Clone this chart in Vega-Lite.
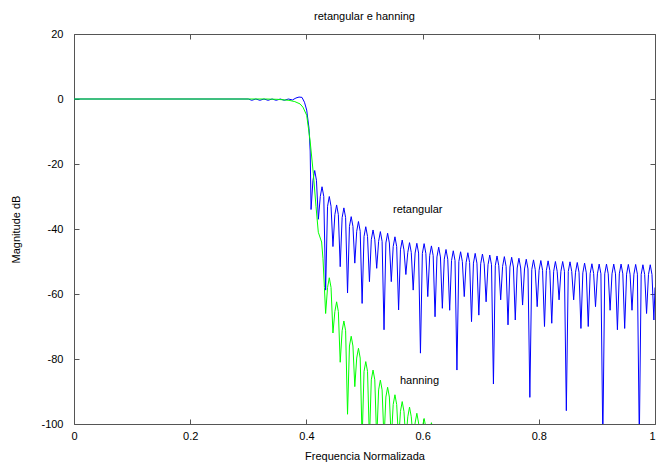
{
  "$schema": "https://vega.github.io/schema/vega-lite/v6.json",
  "width": 581,
  "height": 390,
  "autosize": {"type": "none"},
  "padding": {"left": 74, "top": 34, "right": 2, "bottom": 44},
  "background": "white",
  "config": {
    "view": {"stroke": null},
    "font": "Liberation Sans",
    "axis": {"grid": false, "domainColor": "#555", "tickColor": "#555", "labelColor": "#000", "titleColor": "#000", "labelFont": "Liberation Sans", "titleFont": "Liberation Sans", "labelFontSize": 11, "titleFontSize": 11, "titleFontWeight": "normal", "labelFlush": false, "labelOverlap": false, "tickSize": -5}
  },
  "title": {"text": "retangular e hanning", "fontSize": 11, "fontWeight": "normal", "font": "Liberation Sans", "color": "#000", "offset": 6, "anchor": "middle"},
  "datasets": {
    "blue": [
      {"f":0,"db":0},{"f":0.3,"db":0},{"f":0.306,"db":-0.4},{"f":0.313,"db":0},{"f":0.32,"db":-0.4},{"f":0.327,"db":0},{"f":0.334,"db":-0.4},{"f":0.341,"db":0},{"f":0.348,"db":-0.4},{"f":0.355,"db":0},{"f":0.362,"db":-0.4},{"f":0.369,"db":0},{"f":0.376,"db":-0.3},{"f":0.382,"db":0.3},{"f":0.3873,"db":0.6},{"f":0.3924,"db":0.5},{"f":0.3967,"db":-1},{"f":0.4005,"db":-3.4},{"f":0.4045,"db":-9},{"f":0.4065,"db":-16},{"f":0.408,"db":-34},
      {"f":0.4113,"db":-25},{"f":0.4143,"db":-22},{"f":0.4173,"db":-25},{"f":0.4206,"db":-37},
      {"f":0.4239,"db":-30},{"f":0.4269,"db":-27},{"f":0.4299,"db":-30},{"f":0.4331,"db":-58.8},
      {"f":0.4364,"db":-33},{"f":0.4394,"db":-30},{"f":0.4424,"db":-33},{"f":0.4457,"db":-45.4},
      {"f":0.449,"db":-35.6},{"f":0.452,"db":-32.6},{"f":0.455,"db":-35.6},{"f":0.4582,"db":-51.6},
      {"f":0.4615,"db":-36.5},{"f":0.4645,"db":-33.5},{"f":0.4675,"db":-36.5},{"f":0.4708,"db":-59.7},
      {"f":0.4741,"db":-39.2},{"f":0.4771,"db":-36.2},{"f":0.4801,"db":-39.2},{"f":0.4833,"db":-50.5},
      {"f":0.4866,"db":-40.7},{"f":0.4896,"db":-37.7},{"f":0.4926,"db":-40.7},{"f":0.4959,"db":-62.9},
      {"f":0.4992,"db":-42.3},{"f":0.5022,"db":-39.3},{"f":0.5052,"db":-42.3},{"f":0.5085,"db":-56.2},
      {"f":0.5117,"db":-43.3},{"f":0.5147,"db":-40.3},{"f":0.5177,"db":-43.3},{"f":0.521,"db":-52.1},
      {"f":0.5243,"db":-43.8},{"f":0.5273,"db":-40.8},{"f":0.5303,"db":-43.8},{"f":0.5336,"db":-71},
      {"f":0.5368,"db":-44.3},{"f":0.5398,"db":-41.3},{"f":0.5428,"db":-44.3},{"f":0.5461,"db":-56.2},
      {"f":0.5494,"db":-45.4},{"f":0.5524,"db":-42.4},{"f":0.5554,"db":-45.4},{"f":0.5587,"db":-64.9},
      {"f":0.5619,"db":-46.4},{"f":0.5649,"db":-43.4},{"f":0.5679,"db":-46.4},{"f":0.5712,"db":-54},
      {"f":0.5745,"db":-47.2},{"f":0.5775,"db":-44.2},{"f":0.5805,"db":-47.2},{"f":0.5838,"db":-58.8},
      {"f":0.5871,"db":-47.4},{"f":0.5901,"db":-44.4},{"f":0.5931,"db":-47.4},{"f":0.5963,"db":-78.2},
      {"f":0.5996,"db":-47.5},{"f":0.6026,"db":-44.5},{"f":0.6056,"db":-47.5},{"f":0.6089,"db":-60.8},
      {"f":0.6122,"db":-48.2},{"f":0.6152,"db":-45.2},{"f":0.6182,"db":-48.2},{"f":0.6214,"db":-67},
      {"f":0.6247,"db":-48.6},{"f":0.6277,"db":-45.6},{"f":0.6307,"db":-48.6},{"f":0.634,"db":-64.4},
      {"f":0.6373,"db":-49.3},{"f":0.6403,"db":-46.3},{"f":0.6433,"db":-49.3},{"f":0.6466,"db":-65},
      {"f":0.6498,"db":-49.7},{"f":0.6528,"db":-46.7},{"f":0.6558,"db":-49.7},{"f":0.6591,"db":-83.4},
      {"f":0.6624,"db":-50},{"f":0.6654,"db":-47},{"f":0.6684,"db":-50},{"f":0.6717,"db":-60.8},
      {"f":0.6749,"db":-50.3},{"f":0.6779,"db":-47.3},{"f":0.6809,"db":-50.3},{"f":0.6842,"db":-68.5},
      {"f":0.6875,"db":-50.5},{"f":0.6905,"db":-47.5},{"f":0.6935,"db":-50.5},{"f":0.6968,"db":-66.5},
      {"f":0.7,"db":-50.7},{"f":0.703,"db":-47.7},{"f":0.706,"db":-50.7},{"f":0.7093,"db":-62.4},
      {"f":0.7126,"db":-51},{"f":0.7156,"db":-48},{"f":0.7186,"db":-51},{"f":0.7219,"db":-87.7},
      {"f":0.7251,"db":-51.3},{"f":0.7281,"db":-48.3},{"f":0.7311,"db":-51.3},{"f":0.7344,"db":-61.8},
      {"f":0.7377,"db":-51.5},{"f":0.7407,"db":-48.5},{"f":0.7437,"db":-51.5},{"f":0.747,"db":-69.5},
      {"f":0.7503,"db":-51.7},{"f":0.7533,"db":-48.7},{"f":0.7563,"db":-51.7},{"f":0.7595,"db":-68},
      {"f":0.7628,"db":-52},{"f":0.7658,"db":-49},{"f":0.7688,"db":-52},{"f":0.7721,"db":-63.4},
      {"f":0.7754,"db":-52.3},{"f":0.7784,"db":-49.3},{"f":0.7814,"db":-52.3},{"f":0.7846,"db":-91.8},
      {"f":0.7879,"db":-52.5},{"f":0.7909,"db":-49.5},{"f":0.7939,"db":-52.5},{"f":0.7972,"db":-63.9},
      {"f":0.8005,"db":-52.7},{"f":0.8035,"db":-49.7},{"f":0.8065,"db":-52.7},{"f":0.8098,"db":-70},
      {"f":0.813,"db":-52.8},{"f":0.816,"db":-49.8},{"f":0.819,"db":-52.8},{"f":0.8223,"db":-69},
      {"f":0.8256,"db":-53},{"f":0.8286,"db":-50},{"f":0.8316,"db":-53},{"f":0.8349,"db":-61.8},
      {"f":0.8381,"db":-53},{"f":0.8411,"db":-50},{"f":0.8441,"db":-53},{"f":0.8474,"db":-95.9},
      {"f":0.8507,"db":-53.1},{"f":0.8537,"db":-50.1},{"f":0.8567,"db":-53.1},{"f":0.86,"db":-61.8},
      {"f":0.8632,"db":-53.3},{"f":0.8662,"db":-50.3},{"f":0.8692,"db":-53.3},{"f":0.8725,"db":-70.6},
      {"f":0.8758,"db":-53.5},{"f":0.8788,"db":-50.5},{"f":0.8818,"db":-53.5},{"f":0.8851,"db":-70},
      {"f":0.8884,"db":-53.7},{"f":0.8914,"db":-50.7},{"f":0.8944,"db":-53.7},{"f":0.8976,"db":-63.9},
      {"f":0.9009,"db":-53.8},{"f":0.9039,"db":-50.8},{"f":0.9069,"db":-53.8},{"f":0.9102,"db":-105},
      {"f":0.9135,"db":-53.8},{"f":0.9165,"db":-50.8},{"f":0.9195,"db":-53.8},{"f":0.9227,"db":-65},
      {"f":0.926,"db":-53.8},{"f":0.929,"db":-50.8},{"f":0.932,"db":-53.8},{"f":0.9353,"db":-71},
      {"f":0.9386,"db":-53.8},{"f":0.9416,"db":-50.8},{"f":0.9446,"db":-53.8},{"f":0.9478,"db":-70.6},
      {"f":0.9511,"db":-53.9},{"f":0.9541,"db":-50.9},{"f":0.9571,"db":-53.9},{"f":0.9604,"db":-65},
      {"f":0.9637,"db":-53.9},{"f":0.9667,"db":-50.9},{"f":0.9697,"db":-53.9},{"f":0.973,"db":-105},
      {"f":0.9762,"db":-54},{"f":0.9792,"db":-51},{"f":0.9822,"db":-54},{"f":0.9855,"db":-66},
      {"f":0.9888,"db":-54},{"f":0.9918,"db":-51},{"f":0.9948,"db":-54},{"f":0.9981,"db":-68},
      {"f":1,"db":-58}
    ],
    "green": [
      {"f":0,"db":0},{"f":0.33,"db":0},{"f":0.35,"db":-0.1},{"f":0.37,"db":-0.4},{"f":0.38,"db":-0.8},{"f":0.389,"db":-1.5},{"f":0.394,"db":-2.5},{"f":0.4005,"db":-5},{"f":0.4062,"db":-12.6},{"f":0.4119,"db":-22.9},{"f":0.4165,"db":-33},{"f":0.4205,"db":-41},{"f":0.4262,"db":-44},{"f":0.4285,"db":-49},{"f":0.431,"db":-58},{"f":0.4331,"db":-66},
      {"f":0.4364,"db":-58},{"f":0.4394,"db":-55},{"f":0.4424,"db":-58},{"f":0.4457,"db":-72},
      {"f":0.449,"db":-65.4},{"f":0.452,"db":-62.4},{"f":0.455,"db":-65.4},{"f":0.4582,"db":-81},
      {"f":0.4615,"db":-71.3},{"f":0.4645,"db":-68.3},{"f":0.4675,"db":-71.3},{"f":0.4708,"db":-97},
      {"f":0.4741,"db":-76},{"f":0.4771,"db":-73},{"f":0.4801,"db":-76},{"f":0.4833,"db":-88.5},
      {"f":0.4866,"db":-79.7},{"f":0.4896,"db":-76.7},{"f":0.4926,"db":-79.7},{"f":0.4959,"db":-105},
      {"f":0.4992,"db":-83.8},{"f":0.5022,"db":-80.8},{"f":0.5052,"db":-83.8},{"f":0.5085,"db":-105},
      {"f":0.5117,"db":-86.4},{"f":0.5147,"db":-83.4},{"f":0.5177,"db":-86.4},{"f":0.521,"db":-105},
      {"f":0.5243,"db":-89.5},{"f":0.5273,"db":-86.5},{"f":0.5303,"db":-89.5},{"f":0.5336,"db":-105},
      {"f":0.5368,"db":-91.7},{"f":0.5398,"db":-88.7},{"f":0.5428,"db":-91.7},{"f":0.5461,"db":-105},
      {"f":0.5494,"db":-94},{"f":0.5524,"db":-91},{"f":0.5554,"db":-94},{"f":0.5587,"db":-105},
      {"f":0.5619,"db":-96.1},{"f":0.5649,"db":-93.1},{"f":0.5679,"db":-96.1},{"f":0.5712,"db":-105},
      {"f":0.5745,"db":-97.8},{"f":0.5775,"db":-94.8},{"f":0.5805,"db":-97.8},{"f":0.5838,"db":-105},
      {"f":0.5871,"db":-99.7},{"f":0.5901,"db":-96.7},{"f":0.5931,"db":-99.7},{"f":0.5963,"db":-105},
      {"f":0.5996,"db":-101},{"f":0.6026,"db":-98.3},{"f":0.6056,"db":-101},{"f":0.6089,"db":-105},
      {"f":0.6152,"db":-99.6},{"f":0.6214,"db":-105}
    ],
    "labels": [
      {"f":0.549,"db":-34.2,"t":"retangular"},
      {"f":0.561,"db":-86.8,"t":"hanning"}
    ]
  },
  "layer": [
    {
      "data": {"name": "blue"},
      "mark": {"type": "line", "color": "#0000ff", "strokeWidth": 1, "clip": true},
      "encoding": {
        "x": {"field": "f", "type": "quantitative", "sort": null, "scale": {"domain": [0, 1], "nice": false, "zero": false},
              "axis": {"orient": "bottom", "values": [0, 0.2, 0.4, 0.6, 0.8, 1], "labelExpr": "'' + datum.value", "labelPadding": 11, "labelOffset": {"condition": {"test": "datum.value == 1", "value": -3}, "value": 0}, "title": "Frequencia Normalizada", "titleX": 290.5, "titleY": 32, "titleBaseline": "middle", "titleAnchor": "middle"}},
        "y": {"field": "db", "type": "quantitative", "scale": {"domain": [-100, 20], "nice": false, "zero": false},
              "axis": {"orient": "left", "values": [-100, -80, -60, -40, -20, 0, 20], "labelExpr": "'' + datum.value", "labelPadding": 16, "title": "Magnitude dB", "titleX": -58, "titleY": 195, "titleAngle": -90, "titleBaseline": "middle", "titleAnchor": "middle"}}
      }
    },
    {
      "data": {"name": "green"},
      "mark": {"type": "line", "color": "#00ff00", "strokeWidth": 1, "clip": true},
      "encoding": {
        "x": {"field": "f", "type": "quantitative", "sort": null,
              "axis": {"orient": "top", "values": [0, 0.2, 0.4, 0.6, 0.8, 1], "labels": false, "title": null}},
        "y": {"field": "db", "type": "quantitative",
              "axis": {"orient": "right", "values": [-100, -80, -60, -40, -20, 0, 20], "labels": false, "title": null}}
      }
    },
    {
      "data": {"name": "labels"},
      "mark": {"type": "text", "align": "left", "baseline": "middle", "fontSize": 11, "font": "Liberation Sans", "color": "#000"},
      "encoding": {
        "x": {"field": "f", "type": "quantitative", "axis": null},
        "y": {"field": "db", "type": "quantitative", "axis": null},
        "text": {"field": "t"}
      }
    }
  ],
  "resolve": {"axis": {"x": "independent", "y": "independent"}}
}
